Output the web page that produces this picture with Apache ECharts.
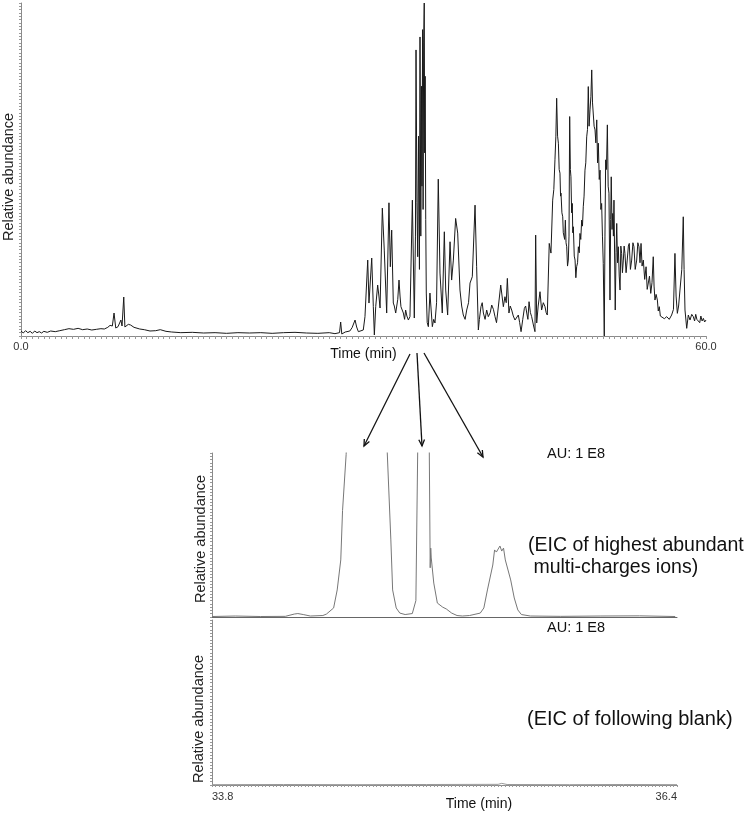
<!DOCTYPE html>
<html>
<head>
<meta charset="utf-8">
<script src="https://cdn.jsdelivr.net/npm/echarts@6/dist/echarts.min.js"></script>
<style>
  html, body { margin: 0; padding: 0; background: #fff; }
  #chart { width: 746px; height: 814px; }
</style>
</head>
<body>
<div id="chart"></div>
<script>
// full run chromatogram (time in min, relative abundance 0-100)
const topTime = [
  0, 0.2, 0.4, 0.6, 0.8, 1.0, 1.2, 1.4, 1.6, 1.8, 2.0, 2.3, 2.6, 3.0, 3.4, 3.8, 4.2, 4.6, 5.0, 5.4, 5.8, 6.2, 6.6, 7.0,
  7.3, 7.6, 7.8, 8.0, 8.15, 8.3, 8.5, 8.75, 8.85, 9.0, 9.1, 9.4, 9.6, 9.9, 10.4, 10.8, 11.3, 11.8, 12.2, 12.7, 13.2,
  14, 15, 16, 17, 18, 19, 20, 21, 22, 23, 24, 25, 26, 27, 27.5, 27.9, 28.0, 28.1, 28.4, 28.8, 29.0, 29.26, 29.4, 29.55,
  29.98, 30.13, 30.37, 30.48, 30.72, 30.86, 30.95, 31.07, 31.24, 31.35, 31.45, 31.65, 31.82, 32.03, 32.23, 32.35,
  32.47, 32.61, 32.7, 32.82, 33.0, 33.11, 33.2, 33.28, 33.4, 33.49, 33.6, 33.69, 33.8, 33.93, 34.07, 34.28, 34.45,
  34.55, 34.6, 34.68, 34.75, 34.82, 34.9, 34.95, 35.02, 35.08, 35.12, 35.18, 35.22, 35.27, 35.32, 35.36, 35.4,
  35.45, 35.5, 35.58, 35.68, 35.82, 36.03, 36.15, 36.26, 36.4, 36.55, 36.7, 36.9, 37.08, 37.2, 37.37, 37.58, 37.72,
  37.87, 38.07, 38.25, 38.45, 38.6, 38.74, 38.9, 39.04, 39.2, 39.33, 39.53, 39.77, 39.91, 40.06, 40.15, 40.29, 40.4,
  40.5, 40.65, 40.79, 40.93, 41.1, 41.23, 41.38, 41.52, 41.65, 41.75, 42.02, 42.25, 42.39, 42.5, 42.6, 42.74, 42.85,
  42.98, 43.12, 43.27, 43.4, 43.56, 43.68, 43.8, 43.95, 44.09, 44.2, 44.3, 44.4, 44.5, 44.62, 44.73, 44.9, 45.02,
  45.08, 45.17, 45.3, 45.46, 45.6, 45.75, 45.9, 46.0, 46.1,
  46.27, 46.42, 46.57, 46.67, 46.77, 46.85, 46.92, 47.0, 47.07, 47.14, 47.21, 47.26, 47.3, 47.38, 47.45, 47.5,
  47.56, 47.62, 47.68, 47.74, 47.8, 47.87, 47.94, 48.0, 48.06, 48.12, 48.17, 48.23, 48.29, 48.33, 48.38, 48.46,
  48.53, 48.6, 48.67, 48.75, 48.82, 48.9, 48.96, 49.03, 49.11, 49.18, 49.25, 49.32, 49.4, 49.47, 49.55, 49.62,
  49.69, 49.76, 49.84, 49.92, 49.99, 50.06, 50.13, 50.2, 50.28, 50.35, 50.43, 50.5, 50.57, 50.65, 50.72, 50.79,
  50.86, 50.93, 51.0, 51.09, 51.15, 51.21, 51.28, 51.36, 51.43, 51.5, 51.59, 51.65, 51.7, 51.77, 51.83, 51.89,
  51.94, 52.05, 52.12, 52.18, 52.25, 52.32, 52.4, 52.47, 52.54, 52.61, 52.68, 52.76, 52.83, 52.9, 53.0, 53.1,
  53.2, 53.28, 53.38, 53.49, 53.6, 53.69, 53.8, 53.93, 54.03, 54.13, 54.22, 54.31, 54.4, 54.51, 54.63, 54.75,
  54.85, 54.95, 55.05, 55.16, 55.27, 55.38, 55.45, 55.53, 55.63, 55.74, 55.82, 55.91, 56.0, 56.12, 56.35, 56.56,
  56.78, 56.99, 57.15, 57.28, 57.38, 57.49, 57.6, 57.72, 57.88, 58.01, 58.08, 58.16, 58.31, 58.45, 58.6, 58.75,
  58.89, 59.0, 59.1, 59.2, 59.33, 59.45, 59.55, 59.66, 59.77, 59.88, 60
]
const topAbund = [
  1.5, 0.9, 1.6, 1.0, 1.4, 0.8, 1.5, 1.0, 1.3, 0.9, 1.4, 1.1, 1.5, 1.3, 1.6, 1.9, 2.2, 2.0, 2.3, 1.9, 2.1, 1.8, 2.0, 2.2,
  2.1, 2.6, 3.2, 3.0, 6.9, 2.4, 2.8, 4.8, 3.0, 11.7, 2.7, 3.5, 3.3, 2.6, 2.1, 1.9, 1.5, 1.6, 1.9, 1.4, 1.2,
  1.0, 1.1, 0.9, 1.0, 0.8, 1.0, 0.9, 1.0, 0.8, 1.0, 1.1, 0.9, 0.8, 1.0, 0.7, 1.0, 4.2, 0.6, 1.2, 1.5, 2.5, 4.8, 2.7, 1.3,
  1.8, 5.8, 22.8, 9.9, 23.4, 8.8, 0.3, 8.8, 15.3, 12, 8.4, 38.4, 25.8, 6.9, 40, 20.8,
  31.8, 9.9, 9, 6.9, 11, 16.8, 12, 8.8, 9, 6.9, 5, 7.8, 6, 4.8, 5.8, 40.8, 5.4,
  30, 85.9, 40, 23.8, 60, 20, 89.8, 30, 75, 45, 92, 38, 88, 100, 55, 78,
  35, 12.9, 4, 2.8, 12.9, 2.8, 5, 3.9, 10, 47.1, 18.9, 6.9, 31.3, 13.8, 6.3, 28.3, 16.8,
  22.8, 35.3, 30.9, 13.8, 9, 6.3, 5, 7.8, 10, 15.9, 17.8, 39.3, 20.8, 1.8, 5, 8.8, 10,
  6.9, 5, 7.8, 5.8, 7, 9.3, 8, 5.8, 4, 6.9, 15.3, 8.8, 11.8, 10, 17.3, 6.9, 9,
  7.8, 6, 4.8, 5, 6.3, 4, 1.3, 5, 8.3, 9, 6.9, 5, 10.3, 7, 5.8, 3, 1.3,
  30.3, 3.9, 9, 13.3, 7.8, 10, 8.8, 7, 6.3,
  27.8, 24.9, 40.8, 44, 52.9, 60, 71.4, 60, 57.9, 50, 48.9, 42, 42.9, 37, 35.8, 31,
  30.8, 29, 34.8, 28, 26.8, 21, 22.8, 30, 65.9, 50, 47.8, 37, 39.8, 31, 32.8, 24,
  22.8, 17.5, 20.8, 22, 26.8, 25, 30.8, 29, 34.8, 33, 38.8, 42, 49.8, 52, 59.8, 62,
  74.9, 63, 67.9, 72, 79.9, 70, 69.9, 63, 61.9, 58, 64.9, 52, 57.9, 47, 49.8, 38,
  39.8, 30, 21.8, 0, 30, 52.9, 50, 63.4, 45, 42.9, 10.8, 35, 47.8, 32, 36.8, 30,
  40.8, 7.8, 25, 33.8, 22, 26.8, 18, 13.8, 27, 24.8, 19, 22.8, 27, 24.8, 19, 22.8,
  27, 27.8, 20, 22.8, 28, 26.8, 20, 22.8, 28, 26.8, 22, 27.8, 21, 22.8, 17, 20.8,
  14, 13.8, 18, 12.8, 16, 23.8, 15, 10.8, 12.5, 10.8, 7.5, 8.8, 6.0, 6.3, 5.2, 5.8,
  5.0, 6.3, 8, 24.8, 12, 6.8, 9, 13.8, 20, 35.8, 20, 7.8, 2.3, 6.3, 4.8, 6.5,
  5.8, 4.5, 6.5, 5.0, 5.3, 4.0, 6.0, 4.5, 5.3, 4.2, 4.8
]

// EIC of highest abundant multi-charged ions (off-scale peaks are clipped)
const eicTime = [
  33.8, 33.93, 34.07, 34.21, 34.26, 34.28, 34.31, 34.35, 34.42, 34.44, 34.48, 34.5, 34.52, 34.53, 34.55,
  34.66, 34.78, 34.8, 34.81, 34.83, 34.85, 34.88, 34.92, 34.94, 34.95, 34.98, 35.015, 35.02, 35.023,
  35.026, 35.04, 35.06, 35.09, 35.11, 35.14, 35.17, 35.2, 35.24, 35.3, 35.32, 35.34, 35.37, 35.38, 35.39,
  35.41, 35.42, 35.43, 35.44, 35.47, 35.49, 35.51, 35.53, 35.58, 35.75, 35.97, 36.19, 36.39
]
const eicAbund = [
  0.3, 0.6, 0.3, 0.4, 1.8, 2.1, 1.5, 0.6, 0.9, 1.8, 5.5, 16.5, 34.8, 65, 99,
  400, 100, 47, 16.5, 5.5, 2.4, 1.5, 2.1, 10, 100, 300, 100, 30, 42,
  36, 20.7, 8.5, 6, 4.9, 2.4, 0.9, 0.6, 0.9, 2.4, 5.5, 16.5, 31.7, 40.9, 39.6,
  43.3, 40.2, 42, 34.8, 22.6, 11.6, 4.3, 1.5, 0.6, 0.4, 0.6, 0.7, 0.3
]

// EIC of the following blank run
const blankTime = [33.8, 34.2, 34.6, 35.0, 35.4, 35.42, 35.45, 35.8, 36.1, 36.4]
const blankAbund = [0.2, 0.3, 0.2, 0.3, 0.4, 1.0, 0.3, 0.2, 0.3, 0.2]

const topRange = [0, 60]
const zoomRange = [33.8, 36.4]
const unitLabel = 'AU: 1 E8'

const FONT = '"Liberation Sans", Arial, sans-serif'
const AXIS = '#8a8a8a'

const pairs = (xs, ys) => xs.map((x, i) => [x, ys[i]])

const near = (a, b) => Math.abs(a - b) < 1e-6

function arrow(x1, y1, x2, y2) {
  const a = Math.atan2(y2 - y1, x2 - x1)
  const h = 7
  const s = 0.42
  return [
    { type: 'line', shape: { x1, y1, x2, y2 }, style: { stroke: '#111', lineWidth: 1.3 } },
    {
      type: 'polyline',
      shape: {
        points: [
          [x2 - h * Math.cos(a - s), y2 - h * Math.sin(a - s)],
          [x2, y2],
          [x2 - h * Math.cos(a + s), y2 - h * Math.sin(a + s)],
        ],
      },
      style: { stroke: '#111', lineWidth: 1.3, fill: null },
    },
  ]
}

function text(str, x, y, size, align) {
  return {
    type: 'text',
    x, y,
    style: { text: str, fontSize: size, fontFamily: FONT, fill: '#111', align: align || 'left', verticalAlign: 'middle' },
  }
}

function yName(x, y) {
  return {
    type: 'text', x, y, rotation: Math.PI / 2,
    style: { text: 'Relative abundance', fontSize: 14.5, fontFamily: FONT, fill: '#222', align: 'center', verticalAlign: 'middle' },
  }
}

const chart = echarts.init(document.getElementById('chart'))

const option = {
  animation: false,
  backgroundColor: '#fff',
  textStyle: { fontFamily: FONT },
  grid: [
    { left: 21, top: 3, width: 685, height: 333, outerBoundsMode: 'none' },
    { left: 212, top: 453, width: 465, height: 164, outerBoundsMode: 'none' },
    { left: 212, top: 620, width: 465, height: 165, outerBoundsMode: 'none' },
  ],
  xAxis: [
    {
      gridIndex: 0, type: 'value', min: topRange[0], max: topRange[1], interval: 0.5,
      axisLine: { lineStyle: { color: AXIS, width: 1 } },
      axisTick: { show: true, length: 3, lineStyle: { color: '#999' } },
      splitLine: { show: false },
      axisLabel: {
        fontSize: 11, color: '#333', margin: 5,
        formatter: v => (near(v, topRange[0]) || near(v, topRange[1])) ? v.toFixed(1) : '',
      },
      name: 'Time (min)', nameLocation: 'middle', nameGap: 11, nameMoveOverlap: false,
      nameTextStyle: { fontSize: 14, color: '#111' },
    },
    {
      gridIndex: 1, type: 'value', min: zoomRange[0], max: zoomRange[1],
      axisLine: { lineStyle: { color: '#666', width: 1 } },
      axisTick: { show: false },
      axisLabel: { show: false },
      splitLine: { show: false },
    },
    {
      gridIndex: 2, type: 'value', min: zoomRange[0], max: zoomRange[1], interval: 0.02,
      axisLine: { lineStyle: { color: AXIS, width: 1 } },
      axisTick: { show: true, length: 2, lineStyle: { color: '#999' } },
      splitLine: { show: false },
      axisLabel: {
        fontSize: 11, color: '#333', margin: 6,
        alignMinLabel: 'left', alignMaxLabel: 'right',
        formatter: v => (near(v, zoomRange[0]) || near(v, zoomRange[1])) ? v.toFixed(1) : '',
      },
    },
  ],
  yAxis: [
    {
      gridIndex: 0, type: 'value', min: 0, max: 100, interval: 1,
      axisLine: { show: true, lineStyle: { color: AXIS } },
      axisTick: { show: true, length: 2, lineStyle: { color: '#999' } },
      axisLabel: { show: false },
      splitLine: { show: false },
    },
    {
      gridIndex: 1, type: 'value', min: 0, max: 100, interval: 2,
      axisLine: { show: true, lineStyle: { color: AXIS } },
      axisTick: { show: true, length: 2, lineStyle: { color: '#999' } },
      axisLabel: { show: false },
      splitLine: { show: false },
    },
    {
      gridIndex: 2, type: 'value', min: 0, max: 100, interval: 2,
      axisLine: { show: true, lineStyle: { color: AXIS } },
      axisTick: { show: true, length: 2, lineStyle: { color: '#999' } },
      axisLabel: { show: false },
      splitLine: { show: false },
    },
  ],
  series: [
    {
      type: 'line', xAxisIndex: 0, yAxisIndex: 0, showSymbol: false,
      lineStyle: { color: '#1a1a1a', width: 1 },
      data: pairs(topTime, topAbund),
    },
    {
      type: 'line', xAxisIndex: 1, yAxisIndex: 1, showSymbol: false, clip: true,
      lineStyle: { color: '#777', width: 1 },
      data: pairs(eicTime, eicAbund),
    },
    {
      type: 'line', xAxisIndex: 2, yAxisIndex: 2, showSymbol: false,
      lineStyle: { color: '#999', width: 1 },
      data: pairs(blankTime, blankAbund),
    },
  ],
  graphic: [
    yName(9, 177),
    yName(201, 539),
    yName(199, 719),
    text(unitLabel, 547, 454, 14.5),
    text(unitLabel, 547, 628, 14.5),
    text('(EIC of highest abundant', 528, 546, 19.5),
    text(' multi-charges ions)', 528, 568, 19.5),
    text('(EIC of following blank)', 527, 719, 20),
    text('Time (min)', 479, 804, 14, 'center'),
    ...arrow(410, 354, 364, 446),
    ...arrow(417, 353, 422, 446),
    ...arrow(424, 353, 483, 457),
  ],
}

chart.setOption(option)
</script>
</body>
</html>
